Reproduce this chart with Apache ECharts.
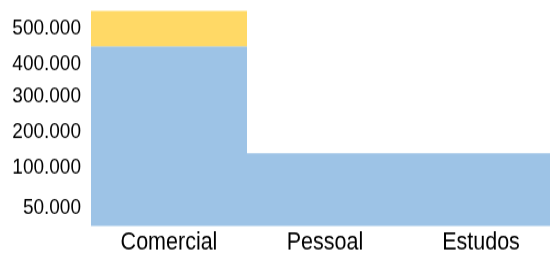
<!DOCTYPE html>
<html lang="pt">
<head>
    <meta charset="utf-8"/>
    <title>Comercial / Pessoal / Estudos</title>
    <script src="https://cdn.jsdelivr.net/npm/echarts@6/dist/echarts.min.js"></script>
    <style>
        html, body { margin: 0; padding: 0; background: #fff; width: 550px; height: 253px; overflow: hidden; }
        /* o original tem o texto um pouco esticado na vertical */
        #main { width: 559px; height: 240px; transform: scaleY(1.15); transform-origin: 0 0; }
    </style>
</head>
<body>
<div id="main"></div>
<script>
    // dados
    var categorias = ['Comercial', 'Pessoal', 'Estudos'];
    var serieAzul = [450000, 140000, 140000];
    var serieAmarela = [100000, 0, 0];
    var marcas = [50000, 100000, 200000, 300000, 400000, 500000];
    var rotulos = ['50.000', '100.000', '200.000', '300.000', '400.000', '500.000'];

    // a escala do original não é linear: posição (px acima da base) de cada marca
    var escalaValor = [0, 50000, 100000, 200000, 300000, 400000, 500000];
    var escalaPos = [0, 17.7, 58.3, 94.3, 129.3, 162, 197.3];
    var esticar = 1.15;

    function escala(v) {
        var n = escalaValor.length;
        for (var i = 1; i < n; i++) {
            if (v <= escalaValor[i] || i == n - 1) {
                var a = escalaValor[i - 1], b = escalaValor[i];
                var pa = escalaPos[i - 1], pb = escalaPos[i];
                return pa + (v - a) * (pb - pa) / (b - a);
            }
        }
        return 0;
    }

    var azul = serieAzul.map(function (v) { return escala(v); });
    var amarelo = serieAmarela.map(function (v, i) {
        return v ? escala(serieAzul[i] + v) - escala(serieAzul[i]) : 0;
    });
    var posMarcas = marcas.map(function (v) { return escala(v); });

    var chart = echarts.init(document.getElementById('main'));
    var option = {
        animation: false,
        grid: { left: 91, right: 0, top: 10 / esticar, bottom: 240 - 226 / esticar, containLabel: false },
        xAxis: {
            type: 'category',
            data: categorias,
            axisLine: { show: false },
            axisTick: { show: false },
            axisLabel: {
                interval: 0,
                color: '#000',
                fontFamily: 'Liberation Sans',
                fontSize: 21.5,
                margin: 4
            }
        },
        yAxis: {
            type: 'value',
            min: 0,
            max: 216,
            axisLine: { show: false },
            axisTick: { show: false },
            splitLine: { show: false },
            axisLabel: {
                customValues: posMarcas,
                color: '#000',
                fontFamily: 'Liberation Sans',
                fontSize: 19,
                margin: 10,
                formatter: function (val) {
                    for (var i = 0; i < posMarcas.length; i++) {
                        if (Math.abs(posMarcas[i] - val) < 0.01) return rotulos[i];
                    }
                    return '';
                }
            }
        },
        series: [
            {
                type: 'bar',
                stack: 'total',
                data: azul,
                barWidth: '100%',
                barCategoryGap: 0,
                itemStyle: { color: '#9DC3E6' }
            },
            {
                type: 'bar',
                stack: 'total',
                data: amarelo,
                barWidth: '100%',
                barCategoryGap: 0,
                itemStyle: { color: '#FFD966' }
            }
        ]
    };
    chart.setOption(option);
</script>
</body>
</html>
